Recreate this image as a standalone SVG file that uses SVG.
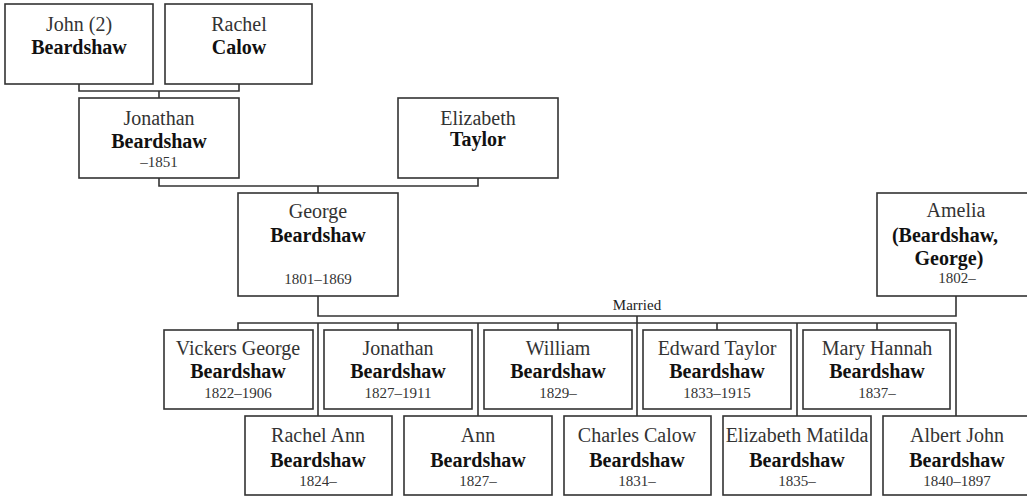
<svg xmlns="http://www.w3.org/2000/svg" width="1027" height="496" viewBox="0 0 1027 496">
<style>
  rect.box { fill: #ffffff; stroke: #333333; stroke-width: 1.6; }
  .conn path { fill: none; stroke: #333333; stroke-width: 1.6; }
  text { font-family: "Liberation Serif", "Times New Roman", serif; text-anchor: middle; }
  .given { font-size: 20px; fill: #333333; }
  .sur { font-size: 20px; font-weight: bold; fill: #111111; }
  .date { font-size: 15px; fill: #333333; }
  .lbl { font-size: 15px; fill: #222222; }
</style>
<rect x="0" y="0" width="1027" height="496" fill="#ffffff"/>

<g id="connectors" class="conn">
  <path d="M79 84 V91 H239 V84 M159 91 V98"/>
  <path d="M159 178 V186 H478 V178 M318 186 V193"/>
  <path d="M318 296 V316 H956 V296 M637 316 V323"/>
  <path d="M238 330 V323 H956 V416"/>
  <path d="M318 323 V416 M398 323 V330 M478 323 V416 M558 323 V330 M637 323 V416 M717 323 V330 M797 323 V416 M877 323 V330"/>
  <text class="lbl" x="637" y="310">Married</text>
</g>

<g id="john">
  <rect class="box" x="5" y="4" width="148" height="80"/>
  <text class="given" x="79" y="31">John (2)</text>
  <text class="sur" x="79" y="54">Beardshaw</text>
</g>
<g id="rachel">
  <rect class="box" x="165" y="4" width="147" height="80"/>
  <text class="given" x="239" y="31">Rachel</text>
  <text class="sur" x="239" y="54">Calow</text>
</g>
<g id="jonathan-sr">
  <rect class="box" x="79" y="98" width="160" height="80"/>
  <text class="given" x="159" y="125">Jonathan</text>
  <text class="sur" x="159" y="148">Beardshaw</text>
  <text class="date" x="159" y="167">–1851</text>
</g>
<g id="elizabeth-taylor">
  <rect class="box" x="398" y="98" width="160" height="80"/>
  <text class="given" x="478" y="125">Elizabeth</text>
  <text class="sur" x="478" y="146">Taylor</text>
</g>
<g id="george">
  <rect class="box" x="238" y="193" width="160" height="103"/>
  <text class="given" x="318" y="218">George</text>
  <text class="sur" x="318" y="242">Beardshaw</text>
  <text class="date" x="318" y="284">1801–1869</text>
</g>
<g id="amelia">
  <rect class="box" x="877" y="193" width="160" height="103"/>
  <text class="given" x="956" y="217">Amelia</text>
  <text class="sur" x="945" y="242">(Beardshaw,</text>
  <text class="sur" x="949" y="265">George)</text>
  <text class="date" x="957" y="283">1802–</text>
</g>

<g id="vickers-george">
  <rect class="box" x="164" y="330" width="149" height="79"/>
  <text class="given" x="238" y="355">Vickers George</text>
  <text class="sur" x="238" y="378">Beardshaw</text>
  <text class="date" x="238" y="398">1822–1906</text>
</g>
<g id="jonathan">
  <rect class="box" x="324" y="330" width="148" height="79"/>
  <text class="given" x="398" y="355">Jonathan</text>
  <text class="sur" x="398" y="378">Beardshaw</text>
  <text class="date" x="398" y="398">1827–1911</text>
</g>
<g id="william">
  <rect class="box" x="484" y="330" width="148" height="79"/>
  <text class="given" x="558" y="355">William</text>
  <text class="sur" x="558" y="378">Beardshaw</text>
  <text class="date" x="558" y="398">1829–</text>
</g>
<g id="edward-taylor">
  <rect class="box" x="643" y="330" width="148" height="79"/>
  <text class="given" x="717" y="355">Edward Taylor</text>
  <text class="sur" x="717" y="378">Beardshaw</text>
  <text class="date" x="717" y="398">1833–1915</text>
</g>
<g id="mary-hannah">
  <rect class="box" x="803" y="330" width="147" height="79"/>
  <text class="given" x="877" y="355">Mary Hannah</text>
  <text class="sur" x="877" y="378">Beardshaw</text>
  <text class="date" x="877" y="398">1837–</text>
</g>

<g id="rachel-ann">
  <rect class="box" x="245" y="416" width="147" height="79"/>
  <text class="given" x="318" y="442">Rachel Ann</text>
  <text class="sur" x="318" y="467">Beardshaw</text>
  <text class="date" x="318" y="486">1824–</text>
</g>
<g id="ann">
  <rect class="box" x="404" y="416" width="148" height="79"/>
  <text class="given" x="478" y="442">Ann</text>
  <text class="sur" x="478" y="467">Beardshaw</text>
  <text class="date" x="478" y="486">1827–</text>
</g>
<g id="charles-calow">
  <rect class="box" x="564" y="416" width="147" height="79"/>
  <text class="given" x="637" y="442">Charles Calow</text>
  <text class="sur" x="637" y="467">Beardshaw</text>
  <text class="date" x="637" y="486">1831–</text>
</g>
<g id="elizabeth-matilda">
  <rect class="box" x="723" y="416" width="148" height="79"/>
  <text class="given" x="797" y="442">Elizabeth Matilda</text>
  <text class="sur" x="797" y="467">Beardshaw</text>
  <text class="date" x="797" y="486">1835–</text>
</g>
<g id="albert-john">
  <rect class="box" x="883" y="416" width="148" height="79"/>
  <text class="given" x="957" y="442">Albert John</text>
  <text class="sur" x="957" y="467">Beardshaw</text>
  <text class="date" x="957" y="486">1840–1897</text>
</g>
</svg>
